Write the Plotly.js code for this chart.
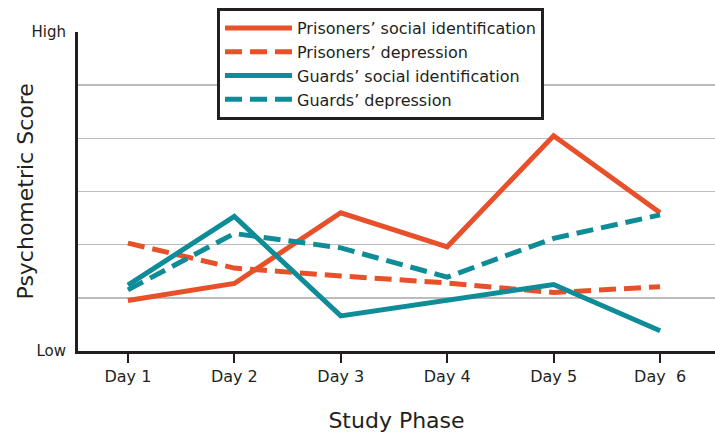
<!DOCTYPE html>
<html>
<head>
<meta charset="utf-8">
<script src="https://cdn.plot.ly/plotly-3.0.1.min.js"></script>
<style>html,body{margin:0;padding:0;background:#fff;}#chart{width:715px;height:433px;}</style>
</head>
<body>
<div id="chart"></div>
<script>
const days = ['Day 1', 'Day 2', 'Day 3', 'Day 4', 'Day 5', 'Day  6'];
const prisonersSocialId = [0.95, 1.27, 2.60, 1.96, 4.05, 2.60];
const prisonersDepression = [2.03, 1.56, 1.41, 1.28, 1.10, 1.21];
const guardsSocialId = [1.24, 2.53, 0.66, 0.95, 1.25, 0.38];
const guardsDepression = [1.15, 2.21, 1.94, 1.39, 2.12, 2.56];
const yTickVals = [0, 1, 2, 3, 4, 5, 6];
const yTickText = ['Low', '', '', '', '', '', 'High'];
const yTitle = 'Psychometric Score';
const xTitle = 'Study Phase';

const ORANGE = '#E8502A';
const TEAL = '#0E8C97';
const INK = '#231f20';
const FONT = 'DejaVu Sans, sans-serif';
const xs = days.map((d, i) => i + 1);

function tr(name, y, color, dash) {
  return {
    type: 'scatter', mode: 'lines', name: name, x: xs, y: y,
    line: {color: color, width: 5, dash: dash},
    hoverinfo: 'skip'
  };
}

const data = [
  tr('Prisoners\u2019 social identification', prisonersSocialId, ORANGE, 'solid'),
  tr('Prisoners\u2019 depression', prisonersDepression, ORANGE, '17px,8px'),
  tr('Guards\u2019 social identification', guardsSocialId, TEAL, 'solid'),
  tr('Guards\u2019 depression', guardsDepression, TEAL, '17px,8px')
];

const layout = {
  width: 715, height: 433,
  margin: {l: 78, r: 0, t: 32, b: 82, autoexpand: false},
  paper_bgcolor: '#fff', plot_bgcolor: '#fff',
  font: {family: FONT, color: INK, size: 16},
  showlegend: true,
  legend: {
    x: (217 - 78) / 637, xref: 'paper', xanchor: 'left',
    y: 1 + 24 / 319, yanchor: 'top',
    bgcolor: '#fff', bordercolor: INK, borderwidth: 3,
    font: {family: FONT, size: 16, color: INK},
    itemwidth: 67, traceorder: 'normal'
  },
  xaxis: {
    range: [0.531, 6.516],
    tickvals: xs, ticktext: days,
    showgrid: false, zeroline: false,
    showline: true, linecolor: INK, linewidth: 3,
    ticks: 'outside', ticklen: 9, tickwidth: 2, tickcolor: INK,
    tickfont: {family: FONT, size: 16, color: INK},
    title: {text: xTitle, font: {family: FONT, size: 22, color: INK}, standoff: 30},
    fixedrange: true
  },
  yaxis: {
    range: [0, 6],
    tickvals: yTickVals, ticktext: yTickText,
    showgrid: true, gridcolor: '#bcbcbf', gridwidth: 1.5,
    zeroline: false,
    showline: true, linecolor: INK, linewidth: 3,
    ticks: '', ticklabelstandoff: 6,
    tickfont: {family: FONT, size: 15, color: INK},
    fixedrange: true
  },
  annotations: [{
    text: yTitle, xref: 'paper', yref: 'paper',
    x: -53 / 637, y: 0.5, xanchor: 'center', yanchor: 'middle',
    textangle: -90, showarrow: false,
    font: {family: FONT, size: 22, color: INK}
  }]
};

Plotly.newPlot('chart', data, layout, {displayModeBar: false, staticPlot: true});
</script>
</body>
</html>
